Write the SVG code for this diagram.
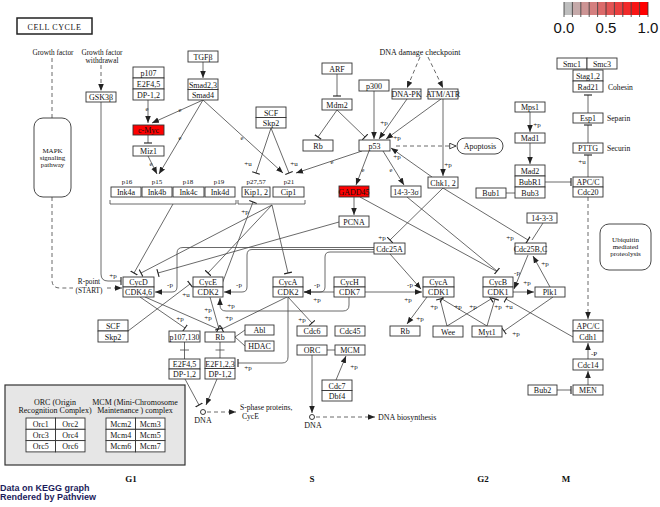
<svg xmlns="http://www.w3.org/2000/svg" width="660" height="507" viewBox="0 0 660 507">
<defs>
<style>
.b{fill:#fff;stroke:#333;stroke-width:0.9}
.r{fill:#ff0000;stroke:#333;stroke-width:0.9}
.t{font-family:"Liberation Serif",serif;font-size:8px;text-anchor:middle;fill:#111}
.u{font-family:"Liberation Serif",serif;font-size:7.3px;text-anchor:middle;fill:#111}
.s{font-family:"Liberation Serif",serif;font-size:7px;text-anchor:middle;fill:#111}
.ls{font-family:"Liberation Serif",serif;font-size:7.6px;fill:#111}
.e{font-family:"Liberation Serif",serif;font-size:6.5px;text-anchor:middle;fill:#111}
.l{stroke:#444;stroke-width:0.8;fill:none}
.d{stroke:#444;stroke-width:0.8;fill:none;stroke-dasharray:4,3}
.ph{font-family:"Liberation Serif",serif;font-size:9px;font-weight:bold;text-anchor:middle;fill:#111}
.ft{font-family:"Liberation Sans",Arial,sans-serif;font-size:9px;font-weight:bold;fill:#1c1c5c}
.lg{font-family:"Liberation Sans",Arial,sans-serif;font-size:15px;text-anchor:middle;fill:#111}
</style>
<marker id="arr" viewBox="0 0 10 10" refX="10" refY="5" markerWidth="7" markerHeight="7" markerUnits="userSpaceOnUse" orient="auto"><path d="M0,1 L10,5 L0,9 z" fill="#222"/></marker>
<marker id="bar" viewBox="0 0 10 10" refX="5" refY="5" markerWidth="8" markerHeight="8" markerUnits="userSpaceOnUse" orient="auto"><path d="M5,0 V10" stroke="#222" stroke-width="1.4"/></marker>
<marker id="opn" viewBox="0 0 10 10" refX="10" refY="5" markerWidth="7" markerHeight="7" markerUnits="userSpaceOnUse" orient="auto"><path d="M1,1 L10,5 L1,9 z" fill="#fff" stroke="#222" stroke-width="1.2"/></marker>
</defs>
<rect width="660" height="507" fill="#fff"/>

<g id="legend">
<rect x="564" y="2" width="8.4" height="13" fill="#BEBEBE"/>
<rect x="572.4" y="2" width="8.4" height="13" fill="#C5A9A9"/>
<rect x="580.8" y="2" width="8.4" height="13" fill="#CC9494"/>
<rect x="589.2" y="2" width="8.4" height="13" fill="#D47F7F"/>
<rect x="597.6" y="2" width="8.4" height="13" fill="#DB6A6A"/>
<rect x="606" y="2" width="8.4" height="13" fill="#E25454"/>
<rect x="614.4" y="2" width="8.4" height="13" fill="#E93F3F"/>
<rect x="622.8" y="2" width="8.4" height="13" fill="#F12A2A"/>
<rect x="631.2" y="2" width="8.4" height="13" fill="#F81515"/>
<rect x="639.6" y="2" width="8.4" height="13" fill="#FF0000"/>
<path d="M564,2V17M572.4,2V17M580.8,2V17M589.2,2V17M597.6,2V17M606,2V17M614.4,2V17M622.8,2V17M631.2,2V17M639.6,2V17M648,2V17" stroke="#333" stroke-width="0.8"/>
<text class="lg" x="564" y="33">0.0</text>
<text class="lg" x="606" y="33">0.5</text>
<text class="lg" x="648" y="33">1.0</text>
</g>

<g id="title"><rect x="17" y="18" width="75" height="16" fill="#fff" stroke="#222" stroke-width="1.5"/><text class="t" x="54.5" y="29.5" style="letter-spacing:0.6px">CELL CYCLE</text></g>

<g id="connectors">
<path class="d" d="M52,58V118"/>
<path class="d" d="M101,65V91" marker-end="url(#arr)"/>
<path class="d" d="M52,197V280Q52,288 60,288H73"/>
<path class="d" d="M107,288H122" marker-end="url(#arr)"/>
<path class="l" d="M101,102V274Q101,281 108,281H121" marker-end="url(#bar)"/>
<path class="l" d="M203,62V78" marker-end="url(#arr)"/>
<path class="l" d="M148,100V123" marker-end="url(#arr)"/>
<path class="l" d="M203,100L152,123" marker-end="url(#arr)"/>
<path class="l" d="M148,135V143" marker-end="url(#bar)"/>
<path class="l" d="M148,156L157,174" marker-end="url(#arr)"/>
<path class="l" d="M203,100L159,174" marker-end="url(#arr)"/>
<path class="l" d="M203,100L283,173" marker-end="url(#arr)"/>
<path class="l" d="M271,128L256,173" marker-end="url(#bar)"/>
<path class="l" d="M271,128L289,173" marker-end="url(#bar)"/>
<path class="l" d="M362,151L296,173" marker-end="url(#arr)"/>
<path class="l" d="M337,74V96" marker-end="url(#bar)"/>
<path class="l" d="M337,110L318,137" marker-end="url(#bar)"/>
<path class="l" d="M337,110L365,137" marker-end="url(#bar)"/>
<path class="l" d="M374,91V139" marker-end="url(#arr)"/>
<path class="l" d="M407,99L379,139" marker-end="url(#arr)"/>
<path class="l" d="M441,99L386,139" marker-end="url(#arr)"/>
<path class="d" d="M420,57L407,88" marker-end="url(#arr)"/>
<path class="d" d="M428,57L443,88" marker-end="url(#arr)"/>
<path class="l" d="M443,99V176" marker-end="url(#arr)"/>
<path class="l" d="M432,177L391,148" marker-end="url(#arr)"/>
<path class="d" d="M396,146H456" marker-end="url(#opn)"/>
<path class="l" d="M369,151L356,185" marker-end="url(#arr)"/>
<path class="l" d="M383,151L404,185" marker-end="url(#arr)"/>
<path class="l" d="M354,197V215" marker-end="url(#arr)"/>
<path class="l" d="M360,197L496,271"/>
<path class="l" d="M407,197L497,271" marker-end="url(#bar)"/>
<path class="l" d="M443,188L390,240" marker-end="url(#bar)"/>
<path class="l" d="M443,188L528,240" marker-end="url(#bar)"/>
<path class="l" d="M543,223L532,240"/>
<path class="l" d="M339,222L158,273" marker-end="url(#bar)"/>
<path class="l" d="M173,204L134,273" marker-end="url(#bar)"/>
<path class="l" d="M272,205L141,273" marker-end="url(#bar)"/>
<path class="l" d="M272,205L208,273" marker-end="url(#bar)"/>
<path class="l" d="M272,205L288,273" marker-end="url(#bar)"/>
<path class="l" d="M222,284L253,202" marker-end="url(#bar)"/>
<path class="l" d="M374,247.5H183Q177,247.5 177,253V287Q177,292 172,292H155" marker-end="url(#arr)"/>
<path class="l" d="M374,249.5H252Q247,249.5 247,255V287Q247,292 242,292H224" marker-end="url(#arr)"/>
<path class="l" d="M374,252H330Q325,252 325,257V287Q325,292 320,292H304" marker-end="url(#arr)"/>
<path class="l" d="M390,254L421,289" marker-end="url(#arr)"/>
<path class="l" d="M334,292H304" marker-end="url(#arr)"/>
<path class="l" d="M365,292H422" marker-end="url(#arr)"/>
<path class="l" d="M349,297V305Q349,311 343,311H226Q220,311 220,305V298" marker-end="url(#arr)"/>
<path class="l" d="M128,331L190,284" marker-end="url(#bar)"/>
<path class="l" d="M140,297L185,328" marker-end="url(#bar)"/>
<path class="l" d="M145,297L218,329" marker-end="url(#bar)"/>
<path class="l" d="M210,297L219,329" marker-end="url(#bar)"/>
<path class="l" d="M287,297L222,329" marker-end="url(#bar)"/>
<path class="l" d="M184.5,342V359M180,350H189"/>
<path class="l" d="M220,342V358M215.5,350H224.5"/>
<path class="l" d="M235,337L245,330M235,337L245,346"/>
<path class="l" d="M185,379L199,405" marker-end="url(#bar)"/>
<path class="l" d="M217,379L206,405" marker-end="url(#arr)"/>
<path class="d" d="M207,412H236" marker-end="url(#arr)"/>
<path class="l" d="M288,297V357Q288,363 282,363H238" marker-end="url(#bar)"/>
<path class="l" d="M288,297L312,323" marker-end="url(#bar)"/>
<path class="l" d="M327,350H335"/>
<path class="l" d="M312,355V413" marker-end="url(#arr)"/>
<path class="l" d="M336,380L346,356" marker-end="url(#arr)"/>
<path class="d" d="M316,417H375" marker-end="url(#arr)"/>
<path class="l" d="M427,297L407,324" marker-end="url(#arr)"/>
<path class="l" d="M447,326L440,299" marker-end="url(#bar)"/>
<path class="l" d="M447,326L491,299" marker-end="url(#bar)"/>
<path class="l" d="M487,326L442,299" marker-end="url(#bar)"/>
<path class="l" d="M487,326L495,299" marker-end="url(#bar)"/>
<path class="l" d="M573,337L506,299" marker-end="url(#bar)"/>
<path class="l" d="M528,255L514,289" marker-end="url(#arr)"/>
<path class="l" d="M513,292H534" marker-end="url(#arr)"/>
<path class="l" d="M550,287L533,256" marker-end="url(#arr)"/>
<path class="l" d="M553,297L504,331" marker-end="url(#bar)"/>
<path class="l" d="M530,112V132" marker-end="url(#arr)"/>
<path class="l" d="M530,143V164" marker-end="url(#arr)"/>
<path class="l" d="M545,182H571" marker-end="url(#bar)"/>
<path class="l" d="M506,193H515"/>
<path class="l" d="M588,113V95" marker-end="url(#bar)"/>
<path class="l" d="M588,143V125" marker-end="url(#bar)"/>
<path class="l" d="M588,177V155" marker-end="url(#bar)"/>
<path class="d" d="M588,197V319" marker-end="url(#arr)"/>
<path class="l" d="M588,359V343" marker-end="url(#arr)"/>
<path class="l" d="M588,385V371" marker-end="url(#arr)"/>
<path class="l" d="M557,390H571" marker-end="url(#bar)"/>
<path class="l" d="M110,200V204H236V200M238,200V204H305V200"/>
</g>

<g id="edge-labels">
<text class="e" x="147" y="111">e</text>
<text class="e" x="180" y="112">e</text>
<text class="e" x="151" y="166">e</text>
<text class="e" x="180" y="140">e</text>
<text class="e" x="242" y="140">e</text>
<text class="e" x="332" y="164">e</text>
<text class="e" x="363" y="172">e</text>
<text class="e" x="391" y="172">e</text>
<text class="s" x="248" y="166">+u</text>
<text class="s" x="294" y="166">+u</text>
<text class="s" x="384" y="125">+p</text>
<text class="s" x="397" y="140">+p</text>
<text class="s" x="397" y="159">+p</text>
<text class="s" x="448" y="167">+p</text>
<text class="s" x="382" y="240">+p</text>
<text class="s" x="510" y="240">+p</text>
<text class="s" x="113" y="278">+p</text>
<text class="s" x="245" y="214">+p</text>
<text class="s" x="170" y="287">-p</text>
<text class="s" x="239" y="287">-p</text>
<text class="s" x="317" y="287">-p</text>
<text class="s" x="317" y="302">+p</text>
<text class="s" x="410" y="287">-p</text>
<text class="s" x="408" y="302">+p</text>
<text class="s" x="231" y="308">+p</text>
<text class="s" x="186" y="297">+u</text>
<text class="s" x="180" y="321">+p</text>
<text class="s" x="208" y="312">+p</text>
<text class="s" x="208" y="320">+p</text>
<text class="s" x="229" y="320">+p</text>
<text class="s" x="248" y="370">+p</text>
<text class="s" x="302" y="322">+p</text>
<text class="s" x="354" y="369">+p</text>
<text class="s" x="420" y="321">+p</text>
<text class="s" x="434" y="309">+p</text>
<text class="s" x="458" y="309">+p</text>
<text class="s" x="473" y="309">+p</text>
<text class="s" x="498" y="309">+p</text>
<text class="s" x="509" y="309">+u</text>
<text class="s" x="517" y="275">-p</text>
<text class="s" x="527" y="285">+p</text>
<text class="s" x="545" y="266">+p</text>
<text class="s" x="516" y="336">+p</text>
<text class="s" x="537" y="127">+p</text>
<text class="s" x="582" y="164">+u</text>
<text class="s" x="594" y="356">-P</text>
</g>

<g id="labels">
<text class="u" x="53" y="55">Growth factor</text>
<text class="u" x="102" y="55">Growth factor</text>
<text class="u" x="102" y="63">withdrawal</text>
<text class="t" x="420" y="55">DNA damage checkpoint</text>
<text class="u" x="89" y="284">R-point</text>
<text class="u" x="89" y="292.5">(START)</text>
<text class="ls" x="240" y="410">S-phase proteins,</text>
<text class="ls" x="242" y="418.5">CycE</text>
<text class="t" x="378" y="420" style="text-anchor:start">DNA biosynthesis</text>
<text class="t" x="203" y="423">DNA</text>
<text class="t" x="313" y="428">DNA</text>
<text class="ls" x="608" y="90">Cohesin</text>
<text class="ls" x="607" y="121">Separin</text>
<text class="ls" x="607" y="151">Securin</text>
<text class="s" x="127" y="184">p16</text>
<text class="s" x="157" y="184">p15</text>
<text class="s" x="188" y="184">p18</text>
<text class="s" x="219" y="184">p19</text>
<text class="s" x="256" y="184">p27,57</text>
<text class="s" x="289" y="184">p21</text>
<text class="ph" x="131" y="482">G1</text>
<text class="ph" x="312" y="482">S</text>
<text class="ph" x="483" y="482">G2</text>
<text class="ph" x="566" y="482">M</text>
<text class="ft" x="0" y="491">Data on KEGG graph</text>
<text class="ft" x="0" y="500">Rendered by Pathview</text>
<circle cx="203" cy="412" r="2.5" fill="#fff" stroke="#222" stroke-width="0.9"/>
<circle cx="312" cy="417" r="2.5" fill="#fff" stroke="#222" stroke-width="0.9"/>
</g>

<g id="mapk"><rect x="34" y="118" width="37" height="79" rx="9" class="b"/><text class="s" x="52.5" y="153">MAPK</text><text class="s" x="52.5" y="160">signaling</text><text class="s" x="52.5" y="167">pathway</text></g>
<g id="gsk3b"><rect x="86" y="92" width="30" height="10" class="b"/><text class="t" x="101" y="100">GSK3β</text></g>
<g id="p107top"><rect x="133" y="67" width="31" height="11" class="b"/><rect x="133" y="78" width="31" height="11" class="b"/><rect x="133" y="89" width="31" height="11" class="b"/><text class="t" x="148.5" y="76">p107</text><text class="t" x="148.5" y="87">E2F4,5</text><text class="t" x="148.5" y="98">DP-1,2</text></g>
<g id="tgfb"><rect x="188" y="51" width="30" height="11" class="b"/><text class="t" x="203" y="60">TGFβ</text></g>
<g id="smad"><rect x="188" y="79" width="30" height="10.5" class="b"/><rect x="188" y="89.5" width="30" height="10.5" class="b"/><text class="t" x="203" y="87.5">Smad2,3</text><text class="t" x="203" y="98">Smad4</text></g>
<g id="cmyc"><rect x="133" y="125" width="31" height="10" class="r"/><text class="t" x="148.5" y="133">c-Myc</text></g>
<g id="miz1"><rect x="133" y="146" width="31" height="10" class="b"/><text class="t" x="148.5" y="154">Miz1</text></g>
<g id="ink4a"><rect x="111" y="187" width="30" height="10" class="b"/><text class="t" x="126" y="195">Ink4a</text></g>
<g id="ink4b"><rect x="142" y="187" width="30" height="10" class="b"/><text class="t" x="157" y="195">Ink4b</text></g>
<g id="ink4c"><rect x="173" y="187" width="31" height="10" class="b"/><text class="t" x="188.5" y="195">Ink4c</text></g>
<g id="ink4d"><rect x="205" y="187" width="30" height="10" class="b"/><text class="t" x="220" y="195">Ink4d</text></g>
<g id="kip12"><rect x="242" y="187" width="28" height="10" class="b"/><text class="t" x="256" y="195">Kip1, 2</text></g>
<g id="cip1"><rect x="273" y="187" width="31" height="10" class="b"/><text class="t" x="288.5" y="195">Cip1</text></g>
<g id="scfskp2top"><rect x="256" y="107" width="30" height="10.5" class="b"/><rect x="256" y="117.5" width="30" height="10.5" class="b"/><text class="t" x="271" y="115.5">SCF</text><text class="t" x="271" y="126">Skp2</text></g>
<g id="arf"><rect x="322" y="63" width="30" height="11" class="b"/><text class="t" x="337" y="71.5">ARF</text></g>
<g id="mdm2"><rect x="322" y="99" width="30" height="11" class="b"/><text class="t" x="337" y="107.5">Mdm2</text></g>
<g id="rbtop"><rect x="303" y="140" width="30" height="11" class="b"/><text class="t" x="318" y="148.5">Rb</text></g>
<g id="p300"><rect x="359" y="80" width="30" height="11" class="b"/><text class="t" x="374" y="88.5">p300</text></g>
<g id="p53"><rect x="359" y="140" width="31" height="11" class="b"/><text class="t" x="374.5" y="148.5">p53</text></g>
<g id="dnapk"><rect x="392" y="89" width="29" height="10" class="b"/><text class="t" x="406.5" y="97">DNA-PK</text></g>
<g id="atmatr"><rect x="428" y="89" width="30" height="10" class="b"/><text class="t" x="443" y="97">ATM/ATR</text></g>
<g id="apoptosis"><rect x="457" y="138" width="46" height="16" rx="8" class="b"/><text class="t" x="480" y="148.5">Apoptosis</text></g>
<g id="gadd45"><rect x="339" y="186" width="30" height="11" class="r"/><text class="t" x="354" y="194.5">GADD45</text></g>
<g id="s1433s"><rect x="391" y="186" width="30" height="11" class="b"/><text class="t" x="406" y="194.5">14-3-3σ</text></g>
<g id="chk12"><rect x="428" y="177" width="30" height="11" class="b"/><text class="t" x="443" y="185.5">Chk1, 2</text></g>
<g id="pcna"><rect x="339" y="216" width="30" height="11" class="b"/><text class="t" x="354" y="224.5">PCNA</text></g>
<g id="cdc25a"><rect x="374" y="243" width="31" height="11" class="b"/><text class="t" x="389.5" y="251.5">Cdc25A</text></g>
<g id="mps1"><rect x="515" y="102" width="30" height="10" class="b"/><text class="t" x="530" y="110">Mps1</text></g>
<g id="mad1"><rect x="515" y="133" width="30" height="10" class="b"/><text class="t" x="530" y="141">Mad1</text></g>
<g id="mad2"><rect x="515" y="165" width="30" height="11" class="b"/><rect x="515" y="176" width="30" height="11" class="b"/><rect x="515" y="187" width="30" height="11" class="b"/><text class="t" x="530" y="173.5">Mad2</text><text class="t" x="530" y="184.5">BubR1</text><text class="t" x="530" y="195.5">Bub3</text></g>
<g id="bub1"><rect x="476" y="188" width="30" height="10" class="b"/><text class="t" x="491" y="196">Bub1</text></g>
<g id="smc"><rect x="557" y="58" width="30" height="11" class="b"/><rect x="587" y="58" width="30" height="11" class="b"/><text class="t" x="572" y="66.5">Smc1</text><text class="t" x="602" y="66.5">Smc3</text></g>
<g id="stag"><rect x="573" y="70" width="30" height="11" class="b"/><rect x="573" y="81" width="30" height="11" class="b"/><text class="t" x="588" y="78.5">Stag1,2</text><text class="t" x="588" y="89.5">Rad21</text></g>
<g id="esp1"><rect x="573" y="113" width="30" height="10" class="b"/><text class="t" x="588" y="121">Esp1</text></g>
<g id="pttg"><rect x="573" y="143" width="30" height="10" class="b"/><text class="t" x="588" y="151">PTTG</text></g>
<g id="apccdc20"><rect x="573" y="177" width="30" height="10" class="b"/><rect x="573" y="187" width="30" height="10" class="b"/><text class="t" x="588" y="185">APC/C</text><text class="t" x="588" y="195">Cdc20</text></g>
<g id="ubiq"><rect x="600" y="224" width="51" height="46" rx="9" class="b"/><text class="s" x="625.5" y="242">Ubiquitin</text><text class="s" x="625.5" y="249">mediated</text><text class="s" x="625.5" y="256">proteolysis</text></g>
<g id="n1433"><rect x="527" y="213" width="30" height="10" class="b"/><text class="t" x="542" y="221">14-3-3</text></g>
<g id="cdc25bc"><rect x="515" y="243" width="31" height="11" class="b"/><text class="t" x="530.5" y="251.5">Cdc25B,C</text></g>
<g id="cycd"><rect x="123" y="277" width="31" height="10" class="b"/><rect x="123" y="287" width="31" height="10" class="b"/><text class="t" x="138.5" y="285">CycD</text><text class="t" x="138.5" y="295">CDK4,6</text></g>
<g id="cyce"><rect x="193" y="277" width="30" height="10" class="b"/><rect x="193" y="287" width="30" height="10" class="b"/><text class="t" x="208" y="285">CycE</text><text class="t" x="208" y="295">CDK2</text></g>
<g id="cycacdk2"><rect x="273" y="277" width="30" height="10" class="b"/><rect x="273" y="287" width="30" height="10" class="b"/><text class="t" x="288" y="285">CycA</text><text class="t" x="288" y="295">CDK2</text></g>
<g id="cych"><rect x="334" y="277" width="31" height="10" class="b"/><rect x="334" y="287" width="31" height="10" class="b"/><text class="t" x="349.5" y="285">CycH</text><text class="t" x="349.5" y="295">CDK7</text></g>
<g id="cycacdk1"><rect x="423" y="277" width="31" height="10" class="b"/><rect x="423" y="287" width="31" height="10" class="b"/><text class="t" x="438.5" y="285">CycA</text><text class="t" x="438.5" y="295">CDK1</text></g>
<g id="cycb"><rect x="483" y="277" width="30" height="10" class="b"/><rect x="483" y="287" width="30" height="10" class="b"/><text class="t" x="498" y="285">CycB</text><text class="t" x="498" y="295">CDK1</text></g>
<g id="plk1"><rect x="535" y="287" width="30" height="10" class="b"/><text class="t" x="550" y="295">Plk1</text></g>
<g id="scfskp2low"><rect x="98" y="320" width="30" height="11" class="b"/><rect x="98" y="331" width="30" height="11" class="b"/><text class="t" x="113" y="328.5">SCF</text><text class="t" x="113" y="339.5">Skp2</text></g>
<g id="p107130"><rect x="169" y="331" width="31" height="11" class="b"/><text class="t" x="184.5" y="339.5">p107,130</text></g>
<g id="rblow"><rect x="205" y="332" width="30" height="10" class="b"/><text class="t" x="220" y="340">Rb</text></g>
<g id="abl"><rect x="245" y="325" width="29" height="10" class="b"/><text class="t" x="259.5" y="333">Abl</text></g>
<g id="hdac"><rect x="245" y="341" width="29" height="10" class="b"/><text class="t" x="259.5" y="349">HDAC</text></g>
<g id="e2f45"><rect x="169" y="359" width="31" height="10" class="b"/><rect x="169" y="369" width="31" height="10" class="b"/><text class="t" x="184.5" y="367">E2F4,5</text><text class="t" x="184.5" y="377">DP-1,2</text></g>
<g id="e2f123"><rect x="205" y="358" width="30" height="10.5" class="b"/><rect x="205" y="368.5" width="30" height="10.5" class="b"/><text class="t" x="220" y="366.5">E2F1,2,3</text><text class="t" x="220" y="377">DP-1,2</text></g>
<g id="cdc6"><rect x="297" y="326" width="30" height="10" class="b"/><text class="t" x="312" y="334">Cdc6</text></g>
<g id="orc"><rect x="297" y="345" width="30" height="10" class="b"/><text class="t" x="312" y="353">ORC</text></g>
<g id="cdc45"><rect x="335" y="326" width="30" height="10" class="b"/><text class="t" x="350" y="334">Cdc45</text></g>
<g id="mcm"><rect x="335" y="345" width="30" height="10" class="b"/><text class="t" x="350" y="353">MCM</text></g>
<g id="cdc7"><rect x="322" y="380" width="30" height="10.5" class="b"/><rect x="322" y="390.5" width="30" height="10.5" class="b"/><text class="t" x="337" y="388.5">Cdc7</text><text class="t" x="337" y="399">Dbf4</text></g>
<g id="rbright"><rect x="390" y="326" width="30" height="10" class="b"/><text class="t" x="405" y="334">Rb</text></g>
<g id="wee"><rect x="433" y="326" width="30" height="11" class="b"/><text class="t" x="448" y="334.5">Wee</text></g>
<g id="myt1"><rect x="472" y="326" width="30" height="11" class="b"/><text class="t" x="487" y="334.5">Myt1</text></g>
<g id="apccdh1"><rect x="573" y="320" width="30" height="11" class="b"/><rect x="573" y="331" width="30" height="11" class="b"/><text class="t" x="588" y="328.5">APC/C</text><text class="t" x="588" y="339.5">Cdh1</text></g>
<g id="cdc14"><rect x="573" y="359" width="30" height="11" class="b"/><text class="t" x="588" y="367.5">Cdc14</text></g>
<g id="men"><rect x="573" y="385" width="30" height="10" class="b"/><text class="t" x="588" y="393">MEN</text></g>
<g id="bub2"><rect x="528" y="385" width="29" height="10" class="b"/><text class="t" x="542.5" y="393">Bub2</text></g>
<g id="complexes">
<rect x="5" y="385" width="180" height="80" fill="#e6e6e6" stroke="#333" stroke-width="1.2"/>
<text class="t" x="55" y="405">ORC (Origin</text>
<text class="t" x="55" y="413">Recognition Complex)</text>
<text class="t" x="135" y="405">MCM (Mini-Chromosome</text>
<text class="t" x="135" y="413">Maintenance ) complex</text>
<rect x="26" y="418" width="29.5" height="11.3" class="b"/><rect x="55.5" y="418" width="29.5" height="11.3" class="b"/>
<rect x="26" y="429.3" width="29.5" height="11.3" class="b"/><rect x="55.5" y="429.3" width="29.5" height="11.3" class="b"/>
<rect x="26" y="440.6" width="29.5" height="11.3" class="b"/><rect x="55.5" y="440.6" width="29.5" height="11.3" class="b"/>
<text class="t" x="40.7" y="426.5">Orc1</text><text class="t" x="70.2" y="426.5">Orc2</text>
<text class="t" x="40.7" y="437.8">Orc3</text><text class="t" x="70.2" y="437.8">Orc4</text>
<text class="t" x="40.7" y="449.1">Orc5</text><text class="t" x="70.2" y="449.1">Orc6</text>
<rect x="106" y="418" width="29.5" height="11.3" class="b"/><rect x="135.5" y="418" width="29.5" height="11.3" class="b"/>
<rect x="106" y="429.3" width="29.5" height="11.3" class="b"/><rect x="135.5" y="429.3" width="29.5" height="11.3" class="b"/>
<rect x="106" y="440.6" width="29.5" height="11.3" class="b"/><rect x="135.5" y="440.6" width="29.5" height="11.3" class="b"/>
<text class="t" x="120.7" y="426.5">Mcm2</text><text class="t" x="150.2" y="426.5">Mcm3</text>
<text class="t" x="120.7" y="437.8">Mcm4</text><text class="t" x="150.2" y="437.8">Mcm5</text>
<text class="t" x="120.7" y="449.1">Mcm6</text><text class="t" x="150.2" y="449.1">Mcm7</text>
</g>
</svg>
